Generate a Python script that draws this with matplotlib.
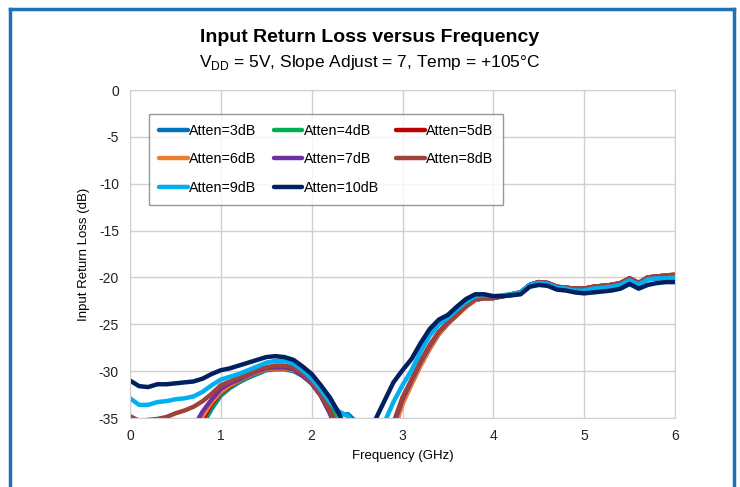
import matplotlib.pyplot as plt
from matplotlib.lines import Line2D
import numpy as np

plt.rcParams['font.family'] = ['Liberation Sans', 'DejaVu Sans']
plt.rcParams['axes.unicode_minus'] = False

freq = np.round(np.arange(0, 6.01, 0.1), 1)

# values below -35 dB run off the bottom of the chart (clipped)
att3 = [-36.5, -37, -37, -37, -37, -37, -37, -37, -35.7, -34.0, -32.6, -31.8, -31.2, -30.7, -30.3, -29.9, -29.8, -29.8, -30.0, -30.5, -31.3, -32.5, -33.5, -34.6, -34.6, -35.5, -38, -39, -38, -36.0, -33.3, -31.3, -29.3, -27.6, -26.0, -24.9, -24.0, -23.1, -22.4, -22.2, -22.2,
        -22.0, -21.9, -21.7, -20.9, -20.6, -20.7, -21.1, -21.2, -21.3, -21.4, -21.2, -21.1, -21.0, -20.8, -20.3, -20.8, -20.2, -20.1, -20.0, -20.0]
att4 = [-36.5, -37, -37, -37, -37, -37, -37, -37, -35.5, -33.8, -32.5, -31.7, -31.1, -30.6, -30.2, -29.8, -29.7, -29.7, -29.9, -30.4, -31.2, -32.5, -34.0, -35.5, -37, -39, -39, -39, -38, -36.0, -33.2, -31.2, -29.2, -27.5, -26.0, -24.9, -24.0, -23.1, -22.4, -22.2, -22.2,
        -22.0, -21.8, -21.6, -20.8, -20.5, -20.6, -21.0, -21.1, -21.2, -21.2, -21.0, -20.9, -20.8, -20.6, -20.1, -20.6, -20.0, -19.9, -19.8, -19.7]
att5 = [-36.5, -37, -37, -37, -37, -37, -37, -37, -35.2, -33.5, -32.3, -31.6, -31.0, -30.5, -30.1, -29.8, -29.7, -29.7, -29.9, -30.4, -31.3, -32.6, -34.4, -36.5, -38, -39, -39, -39, -38, -36.3, -33.4, -31.3, -29.3, -27.5, -26.0, -24.9, -24.0, -23.1, -22.4, -22.2, -22.2,
        -22.0, -21.8, -21.6, -20.8, -20.5, -20.6, -21.0, -21.1, -21.2, -21.2, -21.0, -20.9, -20.8, -20.6, -20.1, -20.6, -20.0, -19.9, -19.8, -19.7]
att6 = [-36.5, -37, -37, -37, -37, -37, -37, -36.5, -34.8, -33.3, -32.2, -31.5, -31.0, -30.5, -30.1, -29.8, -29.7, -29.7, -29.9, -30.4, -31.3, -32.6, -34.4, -36.5, -38, -39, -39, -39, -38, -36.5, -33.5, -31.4, -29.4, -27.6, -26.0, -24.9, -24.0, -23.1, -22.4, -22.2, -22.2,
        -22.0, -21.8, -21.6, -20.8, -20.5, -20.6, -21.0, -21.1, -21.2, -21.2, -21.0, -20.9, -20.8, -20.6, -20.1, -20.6, -20.0, -19.9, -19.8, -19.7]
att7 = [-36.5, -37, -37, -37, -37, -37, -37, -36.0, -34.3, -33.0, -31.9, -31.3, -30.9, -30.4, -30.0, -29.7, -29.6, -29.6, -29.8, -30.5, -31.3, -32.6, -34.5, -37, -38, -39, -39, -39, -37.5, -35.7, -33.0, -31.0, -29.0, -27.3, -25.8, -24.8, -23.9, -23.0, -22.3, -22.2, -22.2,
        -22.0, -21.8, -21.6, -20.8, -20.5, -20.6, -21.0, -21.1, -21.2, -21.2, -21.0, -20.9, -20.8, -20.6, -20.1, -20.6, -20.0, -19.9, -19.8, -19.8]
att8 = [-34.8, -35.3, -35.2, -35.1, -34.9, -34.5, -34.2, -33.8, -33.2, -32.4, -31.5, -31.1, -30.7, -30.3, -29.9, -29.6, -29.4, -29.4, -29.6, -30.3, -31.2, -32.5, -34.2, -36.5, -38, -39, -39, -39, -37.3, -35.5, -32.8, -30.9, -28.9, -27.2, -25.8, -24.8, -23.9, -23.0, -22.3, -22.2, -22.2,
        -22.0, -21.8, -21.6, -20.8, -20.5, -20.6, -21.0, -21.1, -21.2, -21.2, -21.0, -20.9, -20.8, -20.6, -20.1, -20.6, -20.0, -19.9, -19.8, -19.8]
att9 = [-32.9, -33.6, -33.6, -33.3, -33.2, -33.0, -32.9, -32.7, -32.2, -31.5, -30.9, -30.6, -30.3, -29.9, -29.5, -29.1, -28.9, -28.9, -29.2, -29.9, -30.8, -32.0, -33.3, -34.3, -34.8, -36.0, -39, -39, -35.5, -33.3, -31.5, -29.9, -27.9, -26.2, -25.0, -24.3, -23.4, -22.6, -22.0, -21.9, -22.0,
        -21.9, -21.8, -21.6, -20.8, -20.6, -20.7, -21.1, -21.2, -21.4, -21.4, -21.2, -21.1, -21.0, -20.8, -20.3, -20.8, -20.2, -20.1, -20.1, -20.0]
att10 = [-31.0, -31.6, -31.7, -31.4, -31.4, -31.3, -31.2, -31.1, -30.8, -30.3, -29.9, -29.7, -29.4, -29.1, -28.8, -28.5, -28.4, -28.5, -28.8, -29.5, -30.3, -31.5, -32.8, -34.5, -37, -39, -39, -35.2, -33.2, -31.2, -29.9, -28.7, -27.0, -25.5, -24.5, -24.0, -23.1, -22.3, -21.8, -21.8, -22.0,
         -22.0, -21.9, -21.8, -21.0, -20.8, -20.9, -21.3, -21.4, -21.6, -21.7, -21.6, -21.5, -21.4, -21.2, -20.7, -21.2, -20.8, -20.6, -20.5, -20.5]

series = [att3, att4, att5, att6, att7, att8, att9, att10]
labels = ['Atten=3dB', 'Atten=4dB', 'Atten=5dB', 'Atten=6dB',
          'Atten=7dB', 'Atten=8dB', 'Atten=9dB', 'Atten=10dB']
colors = ['#0070C0', '#00B050', '#C00000', '#ED7D31',
          '#7030A0', '#A0413C', '#00B0F0', '#002060']

fig = plt.figure(figsize=(7.4, 4.87), dpi=100)
ax = fig.add_axes([130 / 740, 1 - 418 / 487, 545 / 740, 328 / 487])

lines = []
for vals, lab, col in zip(series, labels, colors):
    ln, = ax.plot(freq, vals, color=col, linewidth=3.2, label=lab, solid_capstyle='round')
    lines.append(ln)

ax.set_xlim(0, 6)
ax.set_ylim(-35, 0)
ax.set_xticks(range(0, 7))
ax.set_yticks(range(-35, 1, 5))
ax.grid(True, color='#D0D0D0', linewidth=1)
ax.set_axisbelow(True)
for s in ax.spines.values():
    s.set_color('#D0D0D0')
ax.tick_params(length=0, labelsize=10, pad=8, colors='#222222')
ax.set_xlabel('Frequency (GHz)', fontsize=9.5, labelpad=5)
ax.set_ylabel('Input Return Loss (dB)', fontsize=9.5, labelpad=6)

# legend filled row by row, like the original
order = [0, 3, 6, 1, 4, 7, 2, 5]
leg = ax.legend([lines[i] for i in order], [labels[i] for i in order],
                ncol=3, loc='upper left', bbox_to_anchor=(0.035, 0.927),
                borderaxespad=0, fontsize=10.3, frameon=True, fancybox=False,
                handlelength=2.0, handletextpad=0.1, columnspacing=1.2,
                labelspacing=1.0, borderpad=0.7)
leg.get_frame().set_edgecolor('#808080')
leg.get_frame().set_linewidth(1)

fig.text(0.5, 1 - 37 / 487, 'Input Return Loss versus Frequency', ha='center',
         va='center', fontsize=14, fontweight='bold')
fig.text(0.5, 1 - 63 / 487, r'V$_{\mathregular{DD}}$ = 5V, Slope Adjust = 7, Temp = +105°C',
         ha='center', va='center', fontsize=12.5)

# blue frame around the chart (open at the bottom)
bc = '#1F70B8'
fig.add_artist(Line2D([10 / 740, 10 / 740], [0, 1 - 9 / 487], color=bc, lw=2.5))
fig.add_artist(Line2D([10 / 740, 734 / 740], [1 - 9 / 487, 1 - 9 / 487], color=bc, lw=2.5))
fig.add_artist(Line2D([734 / 740, 734 / 740], [0, 1 - 9 / 487], color=bc, lw=2.5))

fig.savefig('out.png', dpi=100)
